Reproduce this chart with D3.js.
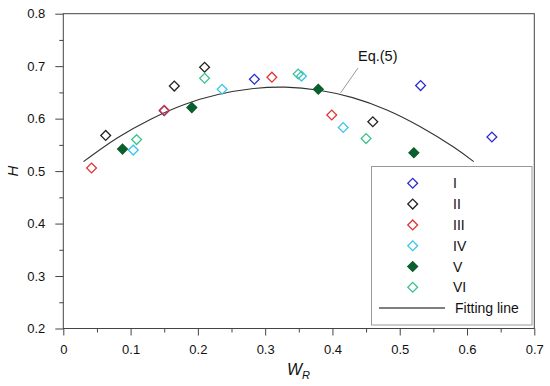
<!DOCTYPE html>
<html><head><meta charset="utf-8">
<script src="https://cdn.jsdelivr.net/npm/d3@7/dist/d3.min.js"></script>
<style>body{margin:0;background:#fff}svg{display:block;font-family:"Liberation Sans",Arial,sans-serif}</style>
</head><body><svg id="c" width="550" height="386"></svg>
<script>
const seriesNames = ["I","II","III","IV","V","VI"];
const seriesColors = ["#2b2bd0","#222222","#e03535","#3cc4ea","#0b5e2e","#3cc48a"];
const seriesFilled = [false,false,false,false,true,false];
const xI = [0.150,0.284,0.531,0.637], yI = [0.615,0.675,0.663,0.565];
const xII = [0.063,0.165,0.210,0.460], yII = [0.568,0.662,0.698,0.594];
const xIII = [0.042,0.150,0.310,0.399], yIII = [0.506,0.616,0.679,0.607];
const xIV = [0.104,0.236,0.354,0.416], yIV = [0.540,0.656,0.681,0.583];
const xV = [0.088,0.191,0.379,0.521], yV = [0.542,0.621,0.656,0.535];
const xVI = [0.109,0.210,0.349,0.450], yVI = [0.560,0.677,0.685,0.562];
const fitX = [0.03,0.08,0.13,0.18,0.23,0.28,0.33,0.38,0.43,0.48,0.53,0.58,0.61];
const fitY = [0.518,0.563,0.599,0.627,0.646,0.657,0.660,0.654,0.640,0.617,0.585,0.546,0.518];
const xTicks = [0,0.1,0.2,0.3,0.4,0.5,0.6,0.7];
const yTicks = [0.2,0.3,0.4,0.5,0.6,0.7,0.8];

const seriesX = [xI,xII,xIII,xIV,xV,xVI];
const seriesY = [yI,yII,yIII,yIV,yV,yVI];

const svg = d3.select("#c");
const x = d3.scaleLinear().domain([0,0.7]).range([63.3,534.3]);
const y = d3.scaleLinear().domain([0.2,0.8]).range([328.5,13.7]);
const axisColor = "#444";

// frame
svg.append("rect").attr("x",x(0)).attr("y",y(0.8)).attr("width",x(0.7)-x(0)).attr("height",y(0.2)-y(0.8))
  .attr("fill","none").attr("stroke",axisColor).attr("stroke-width",1);

// x axis
const xMinor = d3.range(0.05,0.7,0.1);
const gx = svg.append("g").attr("transform",`translate(0,${y(0.2)})`);
gx.call(d3.axisBottom(x).tickValues(xTicks).tickSize(7).tickPadding(9).tickFormat(d=>d===0?"0":d3.format(".1f")(d)));
svg.append("g").attr("transform",`translate(0,${y(0.2)})`).call(d3.axisBottom(x).tickValues(xMinor).tickSize(4).tickFormat(""));
// y axis
const yMinor = d3.range(0.25,0.8,0.1);
const gy = svg.append("g").attr("transform",`translate(${x(0)},0)`);
gy.call(d3.axisLeft(y).tickValues(yTicks).tickSize(8).tickPadding(10).tickFormat(d3.format(".1f")));
svg.append("g").attr("transform",`translate(${x(0)},0)`).call(d3.axisLeft(y).tickValues(yMinor).tickSize(4).tickFormat(""));
svg.selectAll(".domain").remove();
svg.selectAll(".tick line").attr("stroke",axisColor);
svg.selectAll(".tick text").attr("font-size",13).attr("fill","#111").attr("font-family","'Liberation Sans',Arial,sans-serif");

// axis titles
svg.append("text").attr("transform",`translate(18,171) rotate(-90)`).attr("text-anchor","middle")
  .attr("font-size",15).attr("font-style","italic").attr("fill","#111").text("H");
const wt = svg.append("text").attr("x",287).attr("y",375).attr("font-size",16).attr("font-style","italic").attr("fill","#111");
wt.append("tspan").text("W");
wt.append("tspan").attr("font-size",11).attr("dy",4).text("R");

// fitting line
const fit = fitX.map((v,i)=>[v,fitY[i]]);
svg.append("path").datum(fit).attr("fill","none").attr("stroke","#333").attr("stroke-width",1.1)
  .attr("d",d3.line().x(d=>x(d[0])).y(d=>y(d[1])).curve(d3.curveNatural));

// Eq label
svg.append("line").attr("x1",358).attr("y1",68).attr("x2",340.5).attr("y2",93).attr("stroke","#999").attr("stroke-width",1);
svg.append("text").attr("x",358).attr("y",61).attr("font-size",14.5).attr("fill","#111").text("Eq.(5)");

// points
const sym = d3.symbol().type(d3.symbolDiamond2);
const pts = svg.append("g");
seriesNames.forEach((n,si)=>{
  seriesX[si].forEach((xv,j)=>{
    const yv = seriesY[si][j];
    pts.append("path").attr("d",d3.symbol().type(d3.symbolSquare).size(48)())
      .attr("transform",`translate(${x(xv)},${y(yv)}) rotate(45)`)
      .attr("fill",seriesFilled[si]?seriesColors[si]:"none")
      .attr("stroke",seriesColors[si]).attr("stroke-width",1.3);
  });
});

// legend
const lg = svg.append("g");
lg.append("rect").attr("x",371.5).attr("y",166.5).attr("width",160.5).attr("height",158.5)
  .attr("fill","#fff").attr("stroke","#999").attr("stroke-width",1);
const ly0 = 183.3, ldy = 20.8;
seriesNames.forEach((n,si)=>{
  const yy = ly0 + si*ldy;
  lg.append("path").attr("d",d3.symbol().type(d3.symbolSquare).size(48)())
    .attr("transform",`translate(412.7,${yy}) rotate(45)`)
    .attr("fill",seriesFilled[si]?seriesColors[si]:"none")
    .attr("stroke",seriesColors[si]).attr("stroke-width",1.3);
  lg.append("text").attr("x",453).attr("y",yy+5).attr("font-size",14).attr("fill","#111").text(n);
});
const fy = ly0 + 6*ldy;
lg.append("line").attr("x1",379).attr("x2",445).attr("y1",fy).attr("y2",fy).attr("stroke","#555").attr("stroke-width",1.5);
lg.append("text").attr("x",455).attr("y",fy+5).attr("font-size",14).attr("fill","#111").text("Fitting line");
</script></body></html>
